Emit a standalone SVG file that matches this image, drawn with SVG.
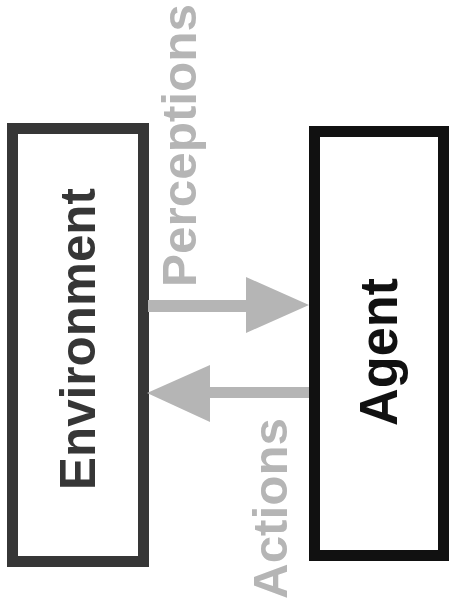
<svg xmlns="http://www.w3.org/2000/svg" width="450" height="613" viewBox="0 0 450 613">
  <style>
    .box { fill: #ffffff; stroke-width: 11; }
    .label { font-family: "Liberation Sans", Arial, sans-serif; font-weight: bold; text-anchor: middle; }
    .flow { fill: #b5b5b5; }
  </style>
  <rect width="450" height="613" fill="#ffffff"/>

  <g id="environment">
    <rect class="box" x="12.5" y="128.5" width="131" height="433" stroke="#363636"/>
    <text class="label" font-size="50" fill="#363636" textLength="302" lengthAdjust="spacingAndGlyphs" transform="translate(95,339) rotate(-90)">Environment</text>
  </g>

  <g id="agent">
    <rect class="box" x="314.5" y="131.5" width="129" height="424" stroke="#111111"/>
    <text class="label" font-size="53" fill="#111111" textLength="148" lengthAdjust="spacingAndGlyphs" transform="translate(397,352) rotate(-90)">Agent</text>
  </g>

  <g id="connectors">
    <!-- Perceptions: environment to agent -->
    <g id="perceptions">
      <polygon class="flow" points="148,300 246,300 246,277 309,305 246,333 246,312 148,312"/>
      <text class="label flow" font-size="48" textLength="283" lengthAdjust="spacingAndGlyphs" transform="translate(196,145.5) rotate(-90)">Perceptions</text>
    </g>
    <!-- Actions: agent to environment -->
    <g id="actions">
      <polygon class="flow" points="309,387 210,387 210,365 147,393 210,422 210,398 309,398"/>
      <text class="label flow" font-size="49" textLength="181" lengthAdjust="spacingAndGlyphs" transform="translate(287,508.5) rotate(-90)">Actions</text>
    </g>
  </g>
</svg>
